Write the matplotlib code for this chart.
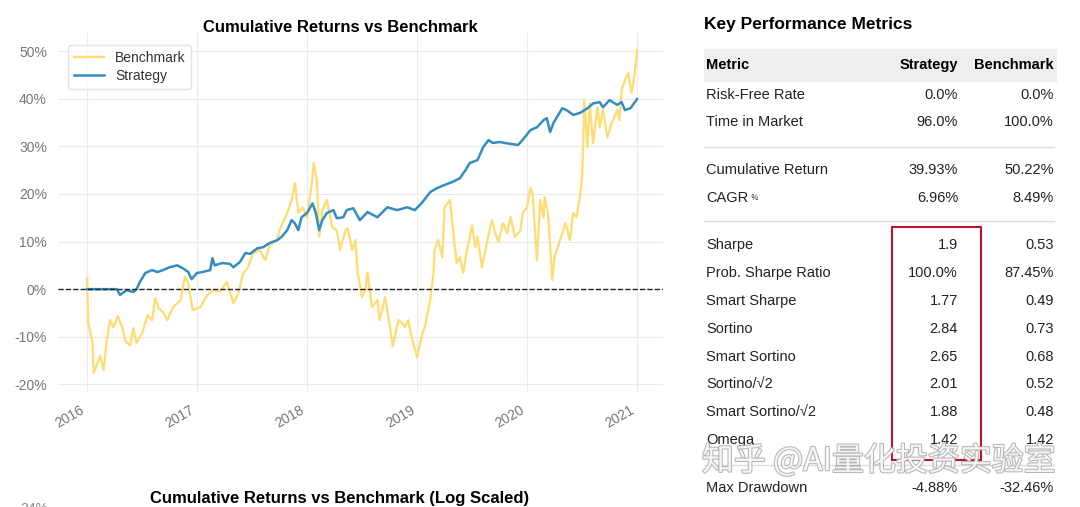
import matplotlib
matplotlib.use("Agg")
import matplotlib.pyplot as plt
import matplotlib.patheffects as pe
from matplotlib.patches import Rectangle

# benchmark cumulative return (%), x as decimal year
bench_t = [2016.00, 2016.01, 2016.05, 2016.06, 2016.12, 2016.15, 2016.18, 2016.21, 2016.24, 2016.28,
           2016.32, 2016.35, 2016.39, 2016.42, 2016.45, 2016.50, 2016.55, 2016.59, 2016.62, 2016.65,
           2016.69, 2016.73, 2016.78, 2016.85, 2016.89, 2016.92, 2016.96, 2017.03, 2017.09, 2017.15,
           2017.21, 2017.27, 2017.33, 2017.37, 2017.42, 2017.46, 2017.51, 2017.57, 2017.62, 2017.66,
           2017.73, 2017.75, 2017.82, 2017.86, 2017.89, 2017.92, 2017.96, 2018.00, 2018.05, 2018.06,
           2018.09, 2018.11, 2018.14, 2018.18, 2018.23, 2018.27, 2018.30, 2018.35, 2018.37, 2018.41,
           2018.44, 2018.46, 2018.50, 2018.53, 2018.55, 2018.59, 2018.64, 2018.66, 2018.71, 2018.74,
           2018.78, 2018.83, 2018.86, 2018.89, 2018.92, 2018.95, 2019.00, 2019.05, 2019.07, 2019.12,
           2019.15, 2019.16, 2019.19, 2019.23, 2019.25, 2019.30, 2019.33, 2019.36, 2019.39, 2019.42,
           2019.45, 2019.50, 2019.53, 2019.55, 2019.59, 2019.64, 2019.68, 2019.71, 2019.74, 2019.78,
           2019.82, 2019.85, 2019.89, 2019.94, 2019.96, 2020.00, 2020.03, 2020.05, 2020.09, 2020.12,
           2020.15, 2020.16, 2020.19, 2020.23, 2020.25, 2020.30, 2020.35, 2020.39, 2020.42, 2020.45,
           2020.48, 2020.50, 2020.51, 2020.52, 2020.55, 2020.57, 2020.60, 2020.64, 2020.66, 2020.69,
           2020.73, 2020.77, 2020.82, 2020.84, 2020.86, 2020.89, 2020.92, 2020.95, 2020.98, 2021.00]
bench_v = [2.3, -7.0, -11.3, -17.6, -14.0, -17.0, -10.7, -6.5, -8.0, -5.7,
           -8.0, -11.0, -11.8, -8.2, -11.3, -9.2, -5.5, -6.5, -1.9, -4.0,
           -4.8, -6.5, -3.8, -2.3, 2.7, 1.2, -4.4, -3.8, -1.3, -0.2,
           -0.5, 1.5, -2.9, -1.3, 3.4, 4.4, 7.6, 8.2, 6.1, 9.2,
           10.3, 12.4, 16.0, 18.7, 22.3, 16.0, 17.2, 15.0, 23.5, 26.5,
           22.9, 11.0, 16.6, 18.7, 13.0, 12.4, 8.2, 12.4, 12.8, 8.2,
           10.3, 3.4, -1.7, -0.2, 3.4, -3.8, -2.3, -6.5, -1.7, -5.9,
           -12.0, -6.5, -7.0, -8.0, -6.5, -10.0, -14.3, -9.2, -8.0, -2.3,
           3.4, 8.2, 10.3, 6.7, 17.2, 18.7, 11.8, 5.5, 6.7, 3.4,
           7.6, 13.4, 8.8, 11.0, 4.6, 10.3, 14.5, 11.8, 9.9, 13.9,
           11.8, 15.1, 11.0, 12.4, 16.0, 17.2, 21.2, 20.2, 6.1, 18.7,
           15.1, 19.3, 16.0, 1.9, 6.7, 10.3, 13.9, 10.3, 16.0, 15.1,
           19.3, 23.5, 30.0, 39.7, 29.8, 39.0, 30.7, 38.2, 34.0, 37.6,
           31.9, 34.9, 37.6, 35.5, 41.8, 43.9, 45.4, 41.2, 45.4, 50.22]

strat_t = [2016.00, 2016.12, 2016.27, 2016.30, 2016.36, 2016.42, 2016.45, 2016.48, 2016.53, 2016.59,
           2016.64, 2016.69, 2016.75, 2016.82, 2016.87, 2016.92, 2016.95, 2017.00, 2017.05, 2017.12,
           2017.14, 2017.16, 2017.23, 2017.30, 2017.33, 2017.39, 2017.44, 2017.48, 2017.55, 2017.60,
           2017.66, 2017.73, 2017.77, 2017.82, 2017.86, 2017.89, 2017.92, 2017.95, 2018.00, 2018.05,
           2018.08, 2018.11, 2018.14, 2018.18, 2018.24, 2018.27, 2018.33, 2018.36, 2018.42, 2018.48,
           2018.55, 2018.64, 2018.73, 2018.82, 2018.91, 2018.98, 2019.05, 2019.12, 2019.18, 2019.24,
           2019.32, 2019.39, 2019.44, 2019.48, 2019.55, 2019.60, 2019.65, 2019.69, 2019.75, 2019.85,
           2019.92, 2019.98, 2020.03, 2020.09, 2020.15, 2020.18, 2020.21, 2020.24, 2020.32, 2020.36,
           2020.42, 2020.48, 2020.55, 2020.60, 2020.66, 2020.69, 2020.75, 2020.82, 2020.86, 2020.89,
           2020.94, 2021.00]
strat_v = [0.0, 0.0, 0.0, -1.2, -0.2, -0.6, 0.0, 1.5, 3.4, 4.0,
           3.6, 4.0, 4.6, 5.0, 4.4, 3.6, 2.1, 3.4, 3.6, 4.0,
           6.5, 5.0, 5.5, 5.3, 4.6, 5.7, 7.6, 7.4, 8.6, 8.8,
           9.7, 10.3, 11.0, 12.4, 14.5, 13.8, 12.4, 15.1, 16.0, 18.0,
           16.0, 12.4, 14.5, 16.0, 16.6, 14.9, 15.1, 16.6, 17.0, 14.5,
           16.2, 15.1, 17.2, 16.6, 17.2, 16.6, 18.3, 20.4, 21.2, 21.8,
           22.5, 23.3, 25.0, 26.5, 27.1, 29.8, 31.3, 30.7, 30.9, 30.5,
           30.3, 31.9, 33.4, 34.0, 35.5, 35.9, 33.0, 34.9, 38.0, 37.6,
           36.6, 37.0, 38.0, 39.0, 39.3, 38.2, 39.7, 38.7, 39.3, 37.6,
           38.0, 39.93]

years = [2016, 2017, 2018, 2019, 2020, 2021]
yticks = [-20, -10, 0, 10, 20, 30, 40, 50]

metrics = ["Risk-Free Rate", "Time in Market", "Cumulative Return", "CAGR", "Sharpe",
           "Prob. Sharpe Ratio", "Smart Sharpe", "Sortino", "Smart Sortino", "Sortino/\u221a2",
           "Smart Sortino/\u221a2", "Omega", "Max Drawdown"]
strategy_vals = ["0.0%", "96.0%", "39.93%", "6.96%", "1.9", "100.0%", "1.77", "2.84",
                 "2.65", "2.01", "1.88", "1.42", "-4.88%"]
benchmark_vals = ["0.0%", "100.0%", "50.22%", "8.49%", "0.53", "87.45%", "0.49", "0.73",
                  "0.68", "0.52", "0.48", "1.42", "-32.46%"]
row_px = [95, 122, 170, 198, 245, 273, 301, 329, 357, 384, 412, 440, 488]
sep_px = [147, 221, 465]

W, H = 1080, 507
plt.rcParams['font.family'] = ['Liberation Sans', 'DejaVu Sans']
fig = plt.figure(figsize=(W / 100, H / 100), dpi=100)


def fx(px):
    return px / W


def fy(py):
    return 1 - py / H


ax = fig.add_axes([fx(58), fy(392), fx(663) - fx(58), fy(33) - fy(392)])
ax.plot(bench_t, bench_v, color='#fedd78', lw=1.7, label='Benchmark')
ax.plot(strat_t, strat_v, color='#348dc1', lw=1.8, label='Strategy')
ax.axhline(0, color='#222222', ls='--', lw=1.0, zorder=3)
ax.set_xlim(2015.736, 2021.236)
ax.set_ylim(-21.6, 53.8)
ax.set_xticks(years)
ax.set_xticklabels([str(y) for y in years], rotation=30, ha='right', color='#777777', fontsize=10)
ax.set_yticks(yticks)
ax.set_yticklabels([f"{v}%" for v in yticks], color='#777777', fontsize=10)
ax.tick_params(length=0, pad=8)
ax.grid(True, color='#ebebeb', lw=0.8)
ax.set_axisbelow(True)
for s in ax.spines.values():
    s.set_visible(False)
leg = ax.legend(loc='upper left', bbox_to_anchor=(0.005, 0.985), fontsize=10,
                frameon=True, borderpad=0.4, labelspacing=0.3, handlelength=2.2)
leg.get_frame().set_edgecolor('#dddddd')
for t in leg.get_texts():
    t.set_color('#333333')

fig.text(fx(340), fy(27), "Cumulative Returns vs Benchmark", ha='center', va='center',
         fontsize=12, fontweight='bold')
fig.text(fx(340), fy(498), "Cumulative Returns vs Benchmark (Log Scaled)", ha='center',
         va='center', fontsize=12, fontweight='bold')
fig.text(fx(20), fy(509), "24%", ha='left', va='center', fontsize=10, color='#888888')

# metrics table
fig.text(fx(704), fy(25), "Key Performance Metrics", ha='left', va='center',
         fontsize=12.5, fontweight='bold')
fig.patches.append(Rectangle((fx(704), fy(81)), fx(1056) - fx(704), fy(49) - fy(81),
                             transform=fig.transFigure, color='#eeeeee', zorder=0))
fig.text(fx(706), fy(65), "Metric", ha='left', va='center', fontsize=10.5, fontweight='bold')
fig.text(fx(958), fy(65), "Strategy", ha='right', va='center', fontsize=10.5, fontweight='bold')
fig.text(fx(1054), fy(65), "Benchmark", ha='right', va='center', fontsize=10.5, fontweight='bold')
for name, sv, bv, py in zip(metrics, strategy_vals, benchmark_vals, row_px):
    t = fig.text(fx(706), fy(py), name, ha='left', va='center', fontsize=10.5, color='#222222')
    if name == "CAGR":
        fig.text(fx(750), fy(py), "\uff05", ha='left', va='center', fontsize=5.5, color='#222222',
                 family=['Noto Sans CJK SC', 'DejaVu Sans'])
    fig.text(fx(958), fy(py), sv, ha='right', va='center', fontsize=10.5, color='#222222')
    fig.text(fx(1054), fy(py), bv, ha='right', va='center', fontsize=10.5, color='#222222')
for py in sep_px:
    fig.add_artist(plt.Line2D([fx(704), fx(1054)], [fy(py), fy(py)], color='#dddddd', lw=1))

fig.patches.append(Rectangle((fx(892), fy(460)), fx(981) - fx(892), fy(227) - fy(460),
                             transform=fig.transFigure, fill=False, edgecolor='#c0142c', lw=1.5,
                             zorder=5))

wm = fig.text(fx(879), fy(461), "知乎 @AI量化投资实验室", ha='center', va='center', fontsize=23,
              color='white', alpha=0.85, zorder=10,
              family=['Noto Sans CJK SC', 'DejaVu Sans'])
wm.set_path_effects([pe.withStroke(linewidth=1.5, foreground='#aaaaaa')])

fig.savefig("out.png", dpi=100)
